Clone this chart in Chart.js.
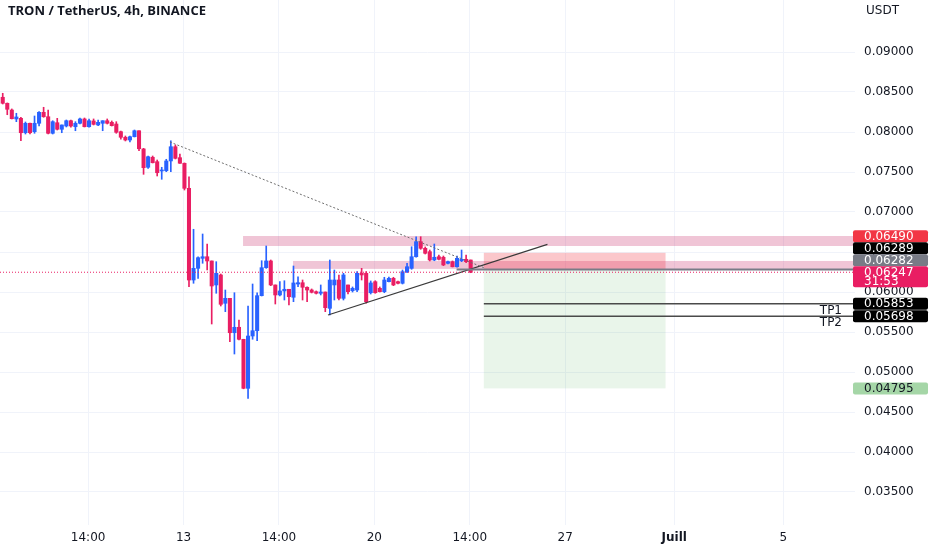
<!DOCTYPE html>
<html>
<head>
<meta charset="utf-8">
<script src="https://cdn.jsdelivr.net/npm/chart.js@4.4.1/dist/chart.umd.min.js"></script>
<style>
html,body{margin:0;padding:0;background:#fff;}
canvas{display:block;}
</style>
</head>
<body>
<canvas id="chart" width="932" height="550"></canvas>
<script>
// TRX/USDT 4h candles (index 0 = first visible candle)
const opens = [
0.08434,0.08359,0.08275,0.08163,0.08171,0.07991,0.08109,0.08004,0.08109,0.08246,
0.08191,0.07984,0.08116,0.08034,0.08075,0.08141,0.08066,0.08109,0.08163,0.08066,
0.08138,0.08088,0.08109,0.08141,0.08121,0.08100,0.08004,0.07934,0.07900,0.07941,
0.08016,0.07788,0.07559,0.07684,0.07629,0.07513,0.07516,0.07638,0.07816,0.07679,
0.07609,0.07296,0.06150,0.06296,0.06421,0.06441,0.06388,0.06088,0.06213,0.05859,
0.05921,0.05491,0.05559,0.05409,0.04796,0.05450,0.05516,0.05954,0.06304,0.06388,
0.06088,0.05963,0.06013,0.06034,0.05934,0.06100,0.06116,0.06059,0.06025,0.06004,
0.05984,0.06000,0.05796,0.06088,0.06150,0.05921,0.06088,0.06016,0.06025,0.06234,
0.06234,0.05991,0.06129,0.06046,0.06004,0.06129,0.06171,0.06129,0.06109,0.06254,
0.06296,0.06441,0.06629,0.06546,0.06504,0.06400,0.06441,0.06434,0.06359,0.06379,
0.06316,0.06391,0.06409,0.06400
];
const highs = [
0.08484,0.08363,0.08288,0.08234,0.08184,0.08125,0.08113,0.08200,0.08254,0.08309,
0.08275,0.08141,0.08171,0.08088,0.08150,0.08150,0.08129,0.08175,0.08175,0.08163,
0.08163,0.08150,0.08141,0.08163,0.08138,0.08129,0.08013,0.07950,0.07950,0.08025,
0.08016,0.07796,0.07700,0.07700,0.07650,0.07559,0.07659,0.07890,0.07838,0.07725,
0.07613,0.07441,0.06784,0.06441,0.06725,0.06600,0.06388,0.06379,0.06225,0.06025,
0.05921,0.05991,0.05650,0.05409,0.05825,0.06100,0.05991,0.06391,0.06575,0.06400,
0.06088,0.06129,0.06141,0.06034,0.06325,0.06191,0.06150,0.06066,0.06038,0.06013,
0.06088,0.06000,0.06400,0.06275,0.06213,0.06234,0.06088,0.06063,0.06254,0.06296,
0.06254,0.06138,0.06141,0.06063,0.06184,0.06188,0.06184,0.06138,0.06275,0.06359,
0.06566,0.06691,0.06691,0.06563,0.06525,0.06600,0.06463,0.06450,0.06388,0.06388,
0.06450,0.06525,0.06463,0.06400
];
const lows = [
0.08350,0.08216,0.08163,0.08129,0.07891,0.07975,0.07975,0.07984,0.08075,0.08184,
0.07975,0.07975,0.08025,0.07991,0.08063,0.08059,0.08016,0.08100,0.08063,0.08059,
0.08088,0.08079,0.08016,0.08100,0.08075,0.07984,0.07909,0.07888,0.07875,0.07938,
0.07766,0.07471,0.07546,0.07613,0.07450,0.07409,0.07504,0.07504,0.07663,0.07606,
0.07275,0.06066,0.06109,0.06171,0.06359,0.06275,0.05600,0.05984,0.05825,0.05754,
0.05379,0.05225,0.05400,0.04790,0.04671,0.05409,0.05391,0.05950,0.06296,0.06079,
0.05850,0.05950,0.05900,0.05838,0.05879,0.06066,0.05900,0.05879,0.05988,0.05975,
0.05963,0.05754,0.05713,0.05900,0.05900,0.05900,0.05975,0.06000,0.06004,0.06150,
0.05859,0.05975,0.05984,0.06000,0.05991,0.06125,0.06079,0.06100,0.06100,0.06241,
0.06284,0.06434,0.06534,0.06475,0.06388,0.06391,0.06400,0.06329,0.06350,0.06313,
0.06309,0.06379,0.06366,0.06241
];
const closes = [
0.08359,0.08284,0.08166,0.08188,0.07991,0.08109,0.07991,0.08109,0.08246,0.08191,
0.07984,0.08129,0.08034,0.08088,0.08141,0.08075,0.08109,0.08163,0.08066,0.08141,
0.08096,0.08121,0.08141,0.08109,0.08079,0.07996,0.07934,0.07900,0.07941,0.08016,
0.07791,0.07554,0.07691,0.07616,0.07491,0.07525,0.07638,0.07816,0.07671,0.07609,
0.07296,0.06150,0.06296,0.06429,0.06441,0.06388,0.06075,0.06234,0.05846,0.05921,
0.05491,0.05559,0.05409,0.04796,0.05450,0.05516,0.05954,0.06304,0.06388,0.06088,
0.05963,0.06013,0.06034,0.05941,0.06113,0.06116,0.06059,0.06025,0.05996,0.05984,
0.06000,0.05804,0.06150,0.06150,0.05921,0.06213,0.06004,0.06046,0.06234,0.06213,
0.05879,0.06113,0.05991,0.06004,0.06150,0.06171,0.06088,0.06109,0.06254,0.06316,
0.06441,0.06629,0.06546,0.06484,0.06400,0.06434,0.06409,0.06338,0.06379,0.06316,
0.06421,0.06409,0.06379,0.06247
];

const yTicks = [0.035,0.04,0.045,0.05,0.055,0.06,0.065,0.07,0.075,0.08,0.085,0.09];
const xTickPos = [18.8,39.8,60.8,81.8,102.8,123.8,147.8,171.8];
const xTickLabels = ["14:00","13","14:00","20","14:00","27","Juill","5"];

const xMin = -0.6, xMax = 187.6;
const yMin = 0.030875, yMax = 0.0965;

// drawings on the chart
const dottedTrend = [{x:36.8,y:0.07875},{x:106.1,y:0.0630}];
const supportTrend = [{x:71.6,y:0.05713},{x:119.9,y:0.06596}];
const zones = [
  {from:52.9, low:0.06575, high:0.0670},
  {from:63.9, low:0.06289, high:0.06388}
];
const stopPrice = 0.06490, entryPrice = 0.06282, targetPrice = 0.04795;
const posStart = 105.9, posEnd = 145.9, entryLineStart = 99.9;
const tp1 = 0.05853, tp2 = 0.05698;
const lastPrice = 0.06247, countdown = "31:53";

const tags = [
  {price:0.06490, bg:"#F23645", fg:"#ffffff"},
  {price:0.06289, bg:"#000000", fg:"#ffffff"},
  {price:0.06282, bg:"#787B86", fg:"#ffffff"},
  {price:lastPrice, bg:"#E91E63", fg:"#ffffff", sub:countdown, anchor:true},
  {price:tp1, bg:"#000000", fg:"#ffffff"},
  {price:tp2, bg:"#000000", fg:"#ffffff"},
  {price:targetPrice, bg:"#A5D6A7", fg:"#131722"}
];

const UP = "#2962FF", DOWN = "#E91E63";
let colors = [], wicks = [], bodies = [];
opens.forEach((o, i) => {
    colors.push(closes[i] >= o ? UP : DOWN);
    wicks.push({x:i, y:[lows[i], highs[i]]});
    bodies.push({x:i, y:[o, closes[i]]});
});

const FONT = "'DejaVu Sans', sans-serif";

const overlay = {
    id: 'overlay',
    beforeDatasetsDraw(chart){
        let ctx = chart.ctx, a = chart.chartArea, x = chart.scales.x, y = chart.scales.y;
        ctx.save();
        ctx.beginPath();
        ctx.rect(a.left, a.top, a.width, a.height);
        ctx.clip();
        zones.forEach(z => {
            let x0 = x.getPixelForValue(z.from), x1 = x.getPixelForValue(xMax);
            let y0 = y.getPixelForValue(z.high), y1 = y.getPixelForValue(z.low);
            ctx.fillStyle = "rgba(194,24,91,0.25)";
            ctx.fillRect(x0, y0, x1 - x0, y1 - y0);
        });
        let px0 = x.getPixelForValue(posStart), px1 = x.getPixelForValue(posEnd);
        let ys = y.getPixelForValue(stopPrice), ye = y.getPixelForValue(entryPrice), yt = y.getPixelForValue(targetPrice);
        ctx.fillStyle = "rgba(242,54,69,0.28)";
        ctx.fillRect(px0, ys, px1 - px0, ye - ys);
        ctx.fillStyle = "rgba(76,175,80,0.12)";
        ctx.fillRect(px0, ye, px1 - px0, yt - ye);
        ctx.restore();
    },
    afterDraw(chart){
        let ctx = chart.ctx, a = chart.chartArea, y = chart.scales.y;
        ctx.save();
        ctx.textBaseline = "middle";
        ctx.fillStyle = "#131722";
        ctx.font = "bold 13px 'Open Sans', sans-serif";
        ctx.textAlign = "left";
        ctx.fillText("TRON / TetherUS, 4h, BINANCE", 8, 11);
        ctx.font = "12px " + FONT;
        ctx.fillText("USDT", 866, 11);

        // TP labels
        ctx.textAlign = "right";
        ctx.fillText("TP1", 842, y.getPixelForValue(tp1) + 7);
        ctx.fillText("TP2", 842, y.getPixelForValue(tp2) + 7);

        // price tags on the axis, stacked around the last price tag
        let h1 = 12, h2 = 21;
        let placed = tags.map(t => {
            let h = t.sub ? h2 : h1;
            let py = y.getPixelForValue(t.price);
            let top = t.sub ? py - 6 : py - h / 2;
            return {t: t, h: h, top: top};
        });
        let anchor = placed.find(p => p.t.anchor);
        let above = placed.filter(p => !p.t.anchor && p.top < anchor.top).sort((p, q) => q.top - p.top);
        let limit = anchor.top;
        above.forEach(p => {
            if (p.top + p.h > limit) p.top = limit - p.h;
            limit = p.top;
        });
        let below = placed.filter(p => !p.t.anchor && p.top >= anchor.top).sort((p, q) => p.top - q.top);
        limit = anchor.top + anchor.h;
        below.forEach(p => {
            if (p.top < limit) p.top = limit;
            limit = p.top + p.h;
        });
        ctx.textAlign = "left";
        ctx.font = "12px " + FONT;
        placed.forEach(p => {
            ctx.fillStyle = p.t.bg;
            ctx.beginPath();
            if (ctx.roundRect) ctx.roundRect(a.right - 2, p.top, 75, p.h, 2);
            else ctx.rect(a.right - 2, p.top, 75, p.h);
            ctx.fill();
            ctx.fillStyle = p.t.fg;
            ctx.fillText(p.t.price.toFixed(5), a.right + 9, p.top + 6.5);
            if (p.t.sub) ctx.fillText(p.t.sub, a.right + 9, p.top + 16);
        });
        ctx.restore();
    }
};

function hline(price, from, to, color, width, dash){
    return {
        type: 'line',
        data: [{x:from, y:price}, {x:to, y:price}],
        borderColor: color,
        borderWidth: width,
        borderDash: dash || [],
        pointRadius: 0,
        fill: false,
        order: 0
    };
}

new Chart(document.getElementById("chart"), {
    type: 'bar',
    data: {
        datasets: [
            {type:'bar', data:wicks, backgroundColor:colors, barThickness:1, grouped:false, order:3},
            {type:'bar', data:bodies, backgroundColor:colors, barThickness:3.4, minBarLength:1, grouped:false, order:2},
            hline(lastPrice, xMin, xMax, "#E91E63", 1, [1,2]),
            hline(entryPrice, entryLineStart, xMax, "#787B86", 2),
            hline(tp1, posStart, xMax, "#4a4a4a", 1.5),
            hline(tp2, posStart, xMax, "#4a4a4a", 1.5),
            {type:'line', data:dottedTrend, borderColor:"#6f6f6f", borderWidth:1, borderDash:[2,2], pointRadius:0, fill:false, order:0},
            {type:'line', data:supportTrend, borderColor:"#3a3a3a", borderWidth:1.2, pointRadius:0, fill:false, order:0}
        ]
    },
    options: {
        responsive: false,
        animation: false,
        layout: {padding: 0},
        plugins: {legend: {display:false}, tooltip: {enabled:false}},
        scales: {
            x: {
                type: 'linear',
                min: xMin,
                max: xMax,
                offset: false,
                grid: {color:"#f0f3fa", drawTicks:false, offset:false},
                border: {display:false},
                afterBuildTicks: s => { s.ticks = xTickPos.map(v => ({value:v})); },
                afterFit: s => { s.height = 25; s.paddingLeft = 0; s.paddingRight = 0; },
                ticks: {
                    autoSkip: false,
                    maxRotation: 0,
                    padding: 6,
                    color: "#131722",
                    font: c => ({family:FONT, size:12, weight: xTickLabels[c.index] === "Juill" ? "bold" : "normal"}),
                    callback: (v, i) => xTickLabels[i]
                }
            },
            y: {
                position: 'right',
                min: yMin,
                max: yMax,
                grid: {color:"#f0f3fa", drawTicks:false},
                border: {display:false},
                afterBuildTicks: s => { s.ticks = yTicks.map(v => ({value:v})); },
                afterFit: s => { s.width = 77; s.paddingTop = 0; s.paddingBottom = 0; },
                ticks: {
                    padding: 9,
                    color: "#131722",
                    font: {family:FONT, size:12},
                    callback: v => v.toFixed(5)
                }
            }
        }
    },
    plugins: [overlay]
});
</script>
</body>
</html>
